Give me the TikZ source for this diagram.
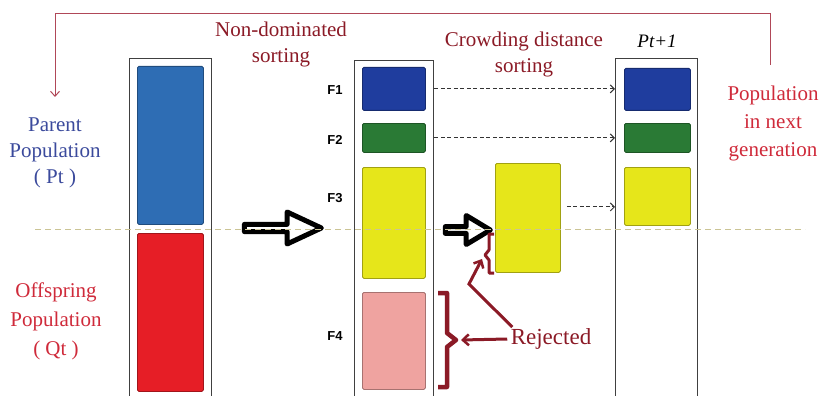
\documentclass[tikz,border=0pt]{standalone}
\usepackage{fontspec}
\setmainfont{Liberation Serif}
\newfontfamily\flabfont{Liberation Sans}
\usetikzlibrary{positioning,arrows.meta,shapes.arrows,calc}
\definecolor{pblue}{HTML}{2E6DB4}
\definecolor{qred}{HTML}{E61E26}
\definecolor{fblue}{HTML}{1F3D9E}
\definecolor{fgreen}{HTML}{2A7A35}
\definecolor{fyel}{HTML}{E6E61A}
\definecolor{fpink}{HTML}{EFA3A0}
\definecolor{dred}{HTML}{8B1A26}
\definecolor{tblue}{HTML}{3B4A9C}
\definecolor{tred}{HTML}{CF2A3A}
\definecolor{fbred}{HTML}{B04858}
\definecolor{olive}{HTML}{CBC495}

\begin{document}
\begin{tikzpicture}[x=1pt,y=-1pt,
			colbox/.style = {draw=black!75, line width=1.3pt, inner sep=0pt, anchor=north west,
				minimum height=345pt},
			blk/.style = {draw=#1!70!black, fill=#1, line width=0.8pt, rounded corners=1.5pt,
				inner sep=0pt, anchor=north west},
			flab/.style = {font=\flabfont\bfseries\fontsize{13}{15}\selectfont},
			txt/.style = {align=center, font=\fontsize{21}{26}\selectfont},
			hollow/.style = {single arrow, draw=black, fill=white, line width=5pt, inner sep=0pt,
				single arrow head indent=0pt, line join=round},
			dasharr/.style = {black!80, line width=1pt, dash pattern=on 4pt off 2.5pt,
				-{Straight Barb[length=4pt, width=8pt, line width=1pt]}},
			fb/.style = {fbred, line width=1pt, -{Straight Barb[length=5pt, width=9pt]}},
			rej/.style = {dred, line width=3pt, -{Straight Barb[length=6pt, width=11pt, line width=2.5pt]}},
			brc/.style = {dred, line width=4.5pt, line join=round},
			]
		
		\useasboundingbox (0,0) rectangle (820,396);
		\clip (0,0) rectangle (820,396);
		
		% columns
		\node[colbox, minimum width=82pt] (colA) at (129,58) {};
		\node[colbox, minimum width=79pt] (colB) at (354,60) {};
		\node[colbox, minimum width=82pt] (colC) at (615,58) {};
		
		% blocks
		\node[blk=pblue, minimum width=66pt, minimum height=158pt] (par) at (137,66) {};
		\node[blk=qred, minimum width=66pt, minimum height=158pt] (off) at (137,233) {};
		\node[blk=fblue, minimum width=63pt, minimum height=43pt] (f1) at (362,67) {};
		\node[blk=fgreen, minimum width=63pt, minimum height=29pt] (f2) at (362,123) {};
		\node[blk=fyel, minimum width=63pt, minimum height=111pt] (f3) at (362,167) {};
		\node[blk=fpink, minimum width=63pt, minimum height=97pt] (f4) at (362,292) {};
		\node[blk=fyel, minimum width=65pt, minimum height=109pt] (cd) at (495,163) {};
		\node[blk=fblue, minimum width=66pt, minimum height=42pt] (n1) at (624,68) {};
		\node[blk=fgreen, minimum width=66pt, minimum height=29pt] (n2) at (624,123) {};
		\node[blk=fyel, minimum width=66pt, minimum height=58pt] (n3) at (624,167) {};
		
		% front labels
		\node[flab] (lf1) at (335,90) {F1};
		\node[flab] (lf2) at (335,140) {F2};
		\node[flab] (lf3) at (335,198) {F3};
		\node[flab] (lf4) at (335,336) {F4};
		
		% texts
		\node[txt, text=tblue] (parent) at (55,153) {Parent\\Population\\( Pt )};
		\node[txt, text=tred, font=\fontsize{21}{29}\selectfont] (offs) at (56,321) {Offspring\\Population\\( Qt )};
		\node[txt, text=dred] (nds) at (281,44) {Non-dominated\\sorting};
		\node[txt, text=dred] (cds) at (524,54) {Crowding distance\\sorting};
		\node[font=\itshape\fontsize{19}{20}\selectfont] (ptn) at (657,41) {Pt+1};
		\node[txt, text=tred, font=\fontsize{21}{28}\selectfont] (nxt) at (773,123) {Population\\in next\\generation};
		\node[txt, text=dred, font=\fontsize{23}{25}\selectfont] (rj) at (551,339) {Rejected};
		
		% hollow arrows
		\node[hollow, minimum height=77pt, minimum width=32pt, single arrow head extend=8.5pt,
			single arrow tip angle=50] (bigarr) at (279,228) {};
		\node[hollow, minimum height=45pt, minimum width=29pt, single arrow head extend=8pt,
			single arrow tip angle=62] (smallarr) at (465,230) {};
		
		% dashed arrows to next population
		\draw[dasharr] (f1.east -| colB.east) -- (f1.east -| colC.west);
		\draw[dasharr] (f2.east -| colB.east) -- (f2.east -| colC.west);
		\coordinate (cdout) at ($(cd.north east)!0.4!(cd.south east)$);
		\draw[dasharr, shorten <=6pt] (cdout) -- (cdout -| colC.west);
		
		% feedback line
		\coordinate (fbs) at (770,65);
		\coordinate (fbe) at (55,97);
		\draw[fb] (fbs) |- (55,14) -- (fbe);
		
		% braces and rejected arrows
		\draw[brc] (438,293) -- (447,293) -- (447,333) -- (456,340) -- (447,347) -- (447,387) -- (438,387);
		\draw[dred, line width=3pt, line join=round] (494,234) -- (489,234) -- (489,250) -- (485,255) -- (489,260) -- (489,273) -- (494,273);
		\coordinate (bigtip) at (461,340);
		\coordinate (bend) at (469,284);
		\coordinate (smalltip) at (482,259);
		\draw[rej] (rj.west) -- (bigtip);
		\draw[rej] ($(rj.north west)+(5,2)$) -- (bend) -- (smalltip);
		
		% split line
		\draw[olive, line width=1pt, dash pattern=on 6pt off 4pt] (35,229) -- (805,229);
		
\end{tikzpicture}
\end{document}
